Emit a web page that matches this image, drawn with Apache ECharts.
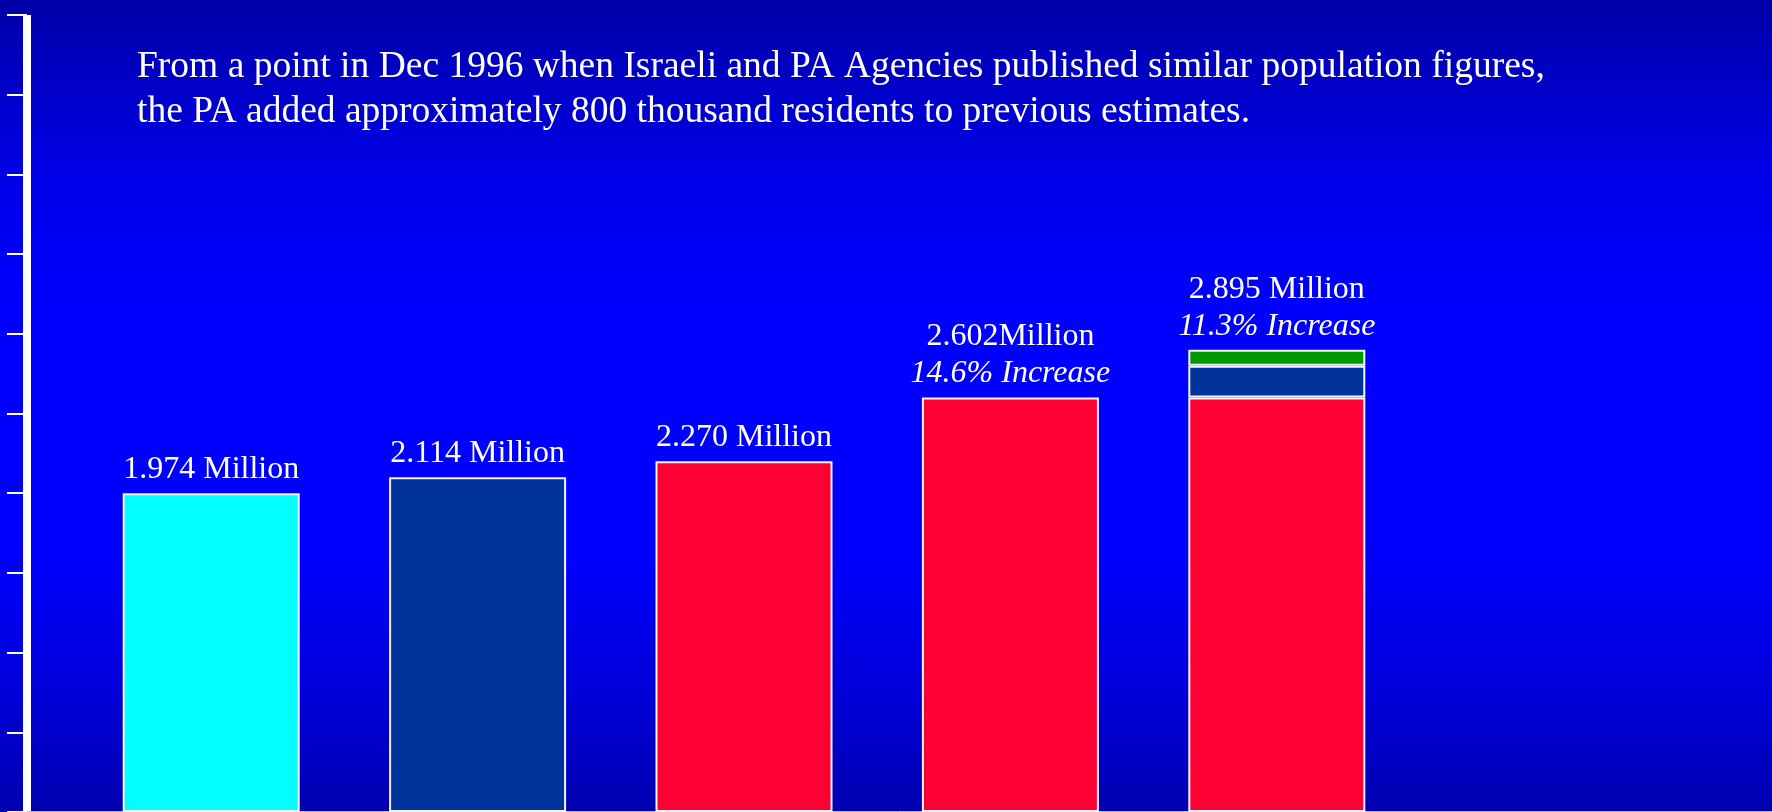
<!DOCTYPE html>
<html>
<head>
<meta charset="utf-8">
<title>PA population estimates</title>
<script src="https://cdn.jsdelivr.net/npm/echarts@6/dist/echarts.min.js"></script>
<style>
  html, body { margin: 0; padding: 0; }
  #chart {
    width: 1772px;
    height: 812px;
    background: linear-gradient(to bottom, #0000a8 0%, #0000e8 22%, #0000ff 38%, #0000ff 68%, #0000d8 85%, #0000b0 100%);
  }
</style>
</head>
<body>
<div id="chart"></div>
<script>
// bar heights in millions (axis ticks every 0.5)
const categories = ['1', '2', '3', '4', '5'];
const baseValues = [2.0, 2.1, 2.2, 2.6, 2.6];
const addedValues = [null, null, null, null, 0.2];
const extraValues = [null, null, null, null, 0.1];

const totalLabels = ['1.974 Million', '2.114 Million', '2.270 Million', '2.602Million', '2.895 Million'];
const increaseLabels = ['', '', '', '14.6% Increase', '11.3% Increase'];
const titleLines = [
  'From a point in Dec 1996 when Israeli and PA Agencies published similar population figures,',
  'the PA added approximately 800 thousand residents to previous estimates.'
];

const baseColors = ['#00ffff', '#003399', '#ff0033', '#ff0033', '#ff0033'];
const serif = '"Liberation Serif", "DejaVu Serif", serif';

// label goes on the top segment of each bar
function topLabel(params) {
  const i = params.dataIndex;
  const top = extraValues[i] != null ? 2 : (addedValues[i] != null ? 1 : 0);
  if (params.seriesIndex !== top) return '';
  let txt = '{v|' + totalLabels[i] + '}';
  if (increaseLabels[i]) txt += '\n{p|' + increaseLabels[i] + '}';
  return txt;
}

const labelStyle = {
  show: true,
  position: 'top',
  distance: 5,
  color: '#ffffff',
  formatter: topLabel,
  rich: {
    v: { fontFamily: serif, fontSize: 32, lineHeight: 37, color: '#ffffff' },
    p: { fontFamily: serif, fontSize: 32, lineHeight: 37, fontStyle: 'italic', color: '#ffffff' }
  }
};
const border = { borderColor: '#f4f4ff', borderWidth: 2 };

const chart = echarts.init(document.getElementById('chart'));
chart.setOption({
  backgroundColor: 'transparent',
  animation: false,
  title: {
    text: titleLines.join('\n'),
    left: 137,
    top: 45,
    padding: 0,
    textStyle: {
      fontFamily: serif,
      fontSize: 37.5,
      lineHeight: 45,
      fontWeight: 'normal',
      color: '#ffffff'
    }
  },
  grid: [
    { left: 78, width: 1332, top: 15, height: 800 },
    { left: 23, right: 0, top: 15, height: 796 }
  ],
  xAxis: [
    {
      type: 'category',
      data: categories,
      gridIndex: 0,
      axisLine: { show: false },
      axisTick: { show: false },
      axisLabel: { show: false }
    },
    {
      type: 'value',
      gridIndex: 1,
      axisLine: { show: true, lineStyle: { color: '#b8b8ff', width: 1 } },
      axisTick: { show: false },
      axisLabel: { show: false },
      splitLine: { show: false }
    }
  ],
  yAxis: [
    {
      type: 'value',
      gridIndex: 0,
      min: 0,
      max: 5,
      interval: 0.5,
      offset: 51,
      axisLine: { show: true, lineStyle: { color: '#ffffff', width: 8, cap: 'butt' } },
      axisTick: { show: true, length: 20, lineStyle: { color: '#ffffff', width: 2 } },
      axisLabel: { show: false },
      splitLine: { show: false }
    },
    { type: 'value', gridIndex: 1, show: false }
  ],
  series: [
    {
      type: 'bar',
      stack: 'total',
      barWidth: 177,
      data: baseValues,
      itemStyle: Object.assign({ color: (p) => baseColors[p.dataIndex] }, border),
      label: labelStyle
    },
    {
      type: 'bar',
      stack: 'total',
      barWidth: 177,
      data: addedValues,
      itemStyle: Object.assign({ color: '#003399' }, border),
      label: labelStyle
    },
    {
      type: 'bar',
      stack: 'total',
      barWidth: 177,
      data: extraValues,
      itemStyle: Object.assign({ color: '#009900' }, border),
      label: labelStyle
    }
  ]
});
</script>
</body>
</html>
